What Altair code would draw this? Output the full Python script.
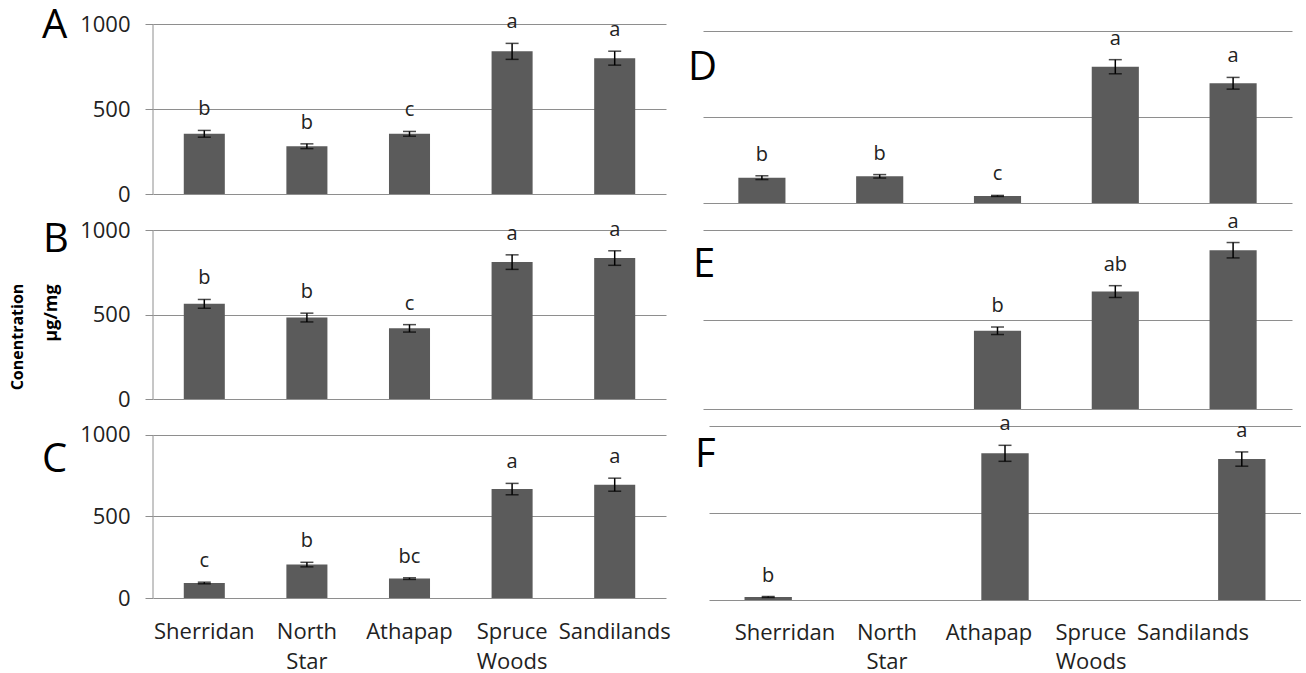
import altair as alt
import pandas as pd

SITES = ["Sherridan", "North Star", "Athapap", "Spruce Woods", "Sandilands"]

# Mean concentration (µg/mg), standard error and significance group per site
A_MEAN = [354, 281, 354, 839, 799]
A_SE = [20, 14, 14, 47, 41]
A_SIG = ["b", "b", "c", "a", "a"]

B_MEAN = [563, 482, 418, 810, 834]
B_SE = [26, 26, 22, 43, 43]
B_SIG = ["b", "b", "c", "a", "a"]

C_MEAN = [92, 205, 119, 668, 695]
C_SE = [5, 14, 5, 35, 40]
C_SIG = ["c", "b", "bc", "a", "a"]

D_MEAN = [147, 155, 41, 791, 695]
D_SE = [11, 10, 3, 41, 34]
D_SIG = ["b", "b", "c", "a", "a"]

E_MEAN = [None, None, 437, 656, 887]
E_SE = [None, None, 21, 33, 43]
E_SIG = [None, None, "b", "ab", "a"]

F_MEAN = [17, None, 843, None, 810]
F_SE = [3, None, 46, None, 41]
F_SIG = ["b", None, "a", None, "a"]

Y_TICKS = [0, 500, 1000]

FONT = "Open Sans"
BAR = "#5b5b5b"
GRID = "#8e8e8e"
INK = "#222222"


def frame(means, ses, sigs):
    df = pd.DataFrame({"site": SITES, "mean": means, "se": ses, "sig": sigs}).dropna()
    df["lo"] = df["mean"] - df["se"]
    df["hi"] = df["mean"] + df["se"]
    return df


def panel(letter, means, ses, sigs, width, height, ydomain, left_axis,
          letter_x, letter_y, site_axis=False, xrange=None, extra=None):
    df = frame(means, ses, sigs)
    scale_args = dict(domain=SITES, paddingInner=0.6, paddingOuter=0.3)
    if xrange is not None:
        scale_args["range"] = xrange
    xscale = alt.Scale(**scale_args)
    if site_axis:
        xaxis = alt.Axis(labelExpr="split(datum.label, ' ')", labelAngle=0,
                         labelFontSize=22, labelFont=FONT, labelColor=INK,
                         labelPadding=23, labelLineHeight=30, ticks=False,
                         domain=False, grid=False, title=None,
                         labelOverlap=False, labelBound=False)
    else:
        xaxis = None

    if left_axis:
        yaxis = alt.Axis(values=Y_TICKS, format="d", grid=True, gridColor=GRID,
                         gridWidth=1, domain=False, ticks=True,
                         tickColor=GRID, tickSize=8, labelFontSize=22,
                         labelFont=FONT, labelColor=INK, labelPadding=15,
                         title=None)
    else:
        yaxis = alt.Axis(values=Y_TICKS, grid=True, gridColor=GRID, gridWidth=1,
                         domain=False, ticks=False, labels=False, title=None)

    xs = alt.X("site:N", scale=xscale, axis=xaxis, title=None)
    yscale = alt.Scale(domain=ydomain, nice=False, zero=False)
    base = alt.Chart(df)

    bars = base.mark_bar(color=BAR).encode(
        x=xs, y=alt.Y("mean:Q", scale=yscale, axis=yaxis, title=None),
        y2=alt.datum(0))
    whisk = base.mark_rule(color="black", strokeWidth=1.5).encode(
        x=xs, y=alt.Y("lo:Q", scale=yscale), y2="hi:Q")
    cap_lo = base.mark_tick(color="black", size=13, thickness=1.5).encode(
        x=xs, y=alt.Y("lo:Q", scale=yscale))
    cap_hi = base.mark_tick(color="black", size=13, thickness=1.5).encode(
        x=xs, y=alt.Y("hi:Q", scale=yscale))
    sig = base.mark_text(baseline="alphabetic", dy=-15, fontSize=20, font=FONT,
                         color=INK).encode(
        x=xs, y=alt.Y("hi:Q", scale=yscale), text="sig:N")
    tag = alt.Chart(pd.DataFrame({"t": [letter]})).mark_text(
        align="left", baseline="alphabetic", fontSize=40, font=FONT,
        color="black").encode(x=alt.value(letter_x), y=alt.value(letter_y), text="t:N")

    layers = [bars, whisk, cap_lo, cap_hi, sig, tag]
    if left_axis:
        # vertical axis line spanning 0 to 1000
        spine = alt.Chart(pd.DataFrame({"lo": [0], "hi": [1000]})).mark_rule(
            color=GRID, strokeWidth=1).encode(
            x=alt.value(0), y=alt.Y("lo:Q", scale=yscale), y2="hi:Q")
        layers.append(spine)
    if extra:
        layers += extra
    return alt.layer(*layers).properties(width=width, height=height)


# invisible marker fixing the top-left corner of the page layout
corner = alt.Chart(pd.DataFrame({"t": [0]})).mark_rule(opacity=0, color="white").encode(
    x=alt.value(-153), x2=alt.value(-152), y=alt.value(-24), y2=alt.value(-23))

# shared y-axis title, drawn beside panel B
ytitle = [
    alt.Chart(pd.DataFrame({"t": ["Conentration"]})).mark_text(
        angle=270, align="center", baseline="middle", fontSize=16,
        fontWeight="bold", font=FONT, color="black").encode(
        x=alt.value(-135), y=alt.value(107), text="t:N"),
    alt.Chart(pd.DataFrame({"t": ["µg/mg"]})).mark_text(
        angle=270, align="center", baseline="middle", fontSize=18,
        fontWeight="bold", font=FONT, color="black").encode(
        x=alt.value(-101), y=alt.value(83), text="t:N"),
]

# grid rows: A|D, B|E, C|F ; row heights 189, 179, 174
pA = panel("A", A_MEAN, A_SE, A_SIG, 513, 170, [0, 1000], True, -111, 14, extra=[corner])
pB = panel("B", B_MEAN, B_SE, B_SIG, 513, 169, [0, 1000], True, -110, 22, extra=ytitle)
pC = panel("C", C_MEAN, C_SE, C_SIG, 513, 172, [0, 1055], True, -111, 46, site_axis=True)

pD = panel("D", D_MEAN, D_SE, D_SIG, 589, 189, [-58, 1039], False, -15, 56)
pE = panel("E", E_MEAN, E_SE, E_SIG, 589, 179, [0, 1000], False, -10, 47)

# panel F: site names sit on their own band scale beneath the bars
f_sites = alt.Chart(pd.DataFrame({"site": SITES})).mark_text(
    baseline="top", align="center", lineBreak=" ", lineHeight=29, fontSize=22,
    font=FONT, color=INK).encode(
    x=alt.X("site:N", scale=alt.Scale(domain=SITES, range=[31, 541],
                                      paddingInner=0, paddingOuter=0), axis=None),
    y=alt.value(197), text="site:N")
pF = panel("F", F_MEAN, F_SE, F_SIG, 598, 174, [0, 1000], False, -8, 41,
           xrange=[6, 598])
pF = alt.layer(pF, f_sites).resolve_scale(x="independent")

chart = alt.concat(
    pA, pD, pB, pE, pC, pF,
    columns=2, spacing={"row": 17, "column": 37}, bounds="flush", align="each",
).properties(padding=0, background="white").configure_view(stroke=None)

chart.save("out.html", embed_options={"renderer": "svg", "actions": False})
